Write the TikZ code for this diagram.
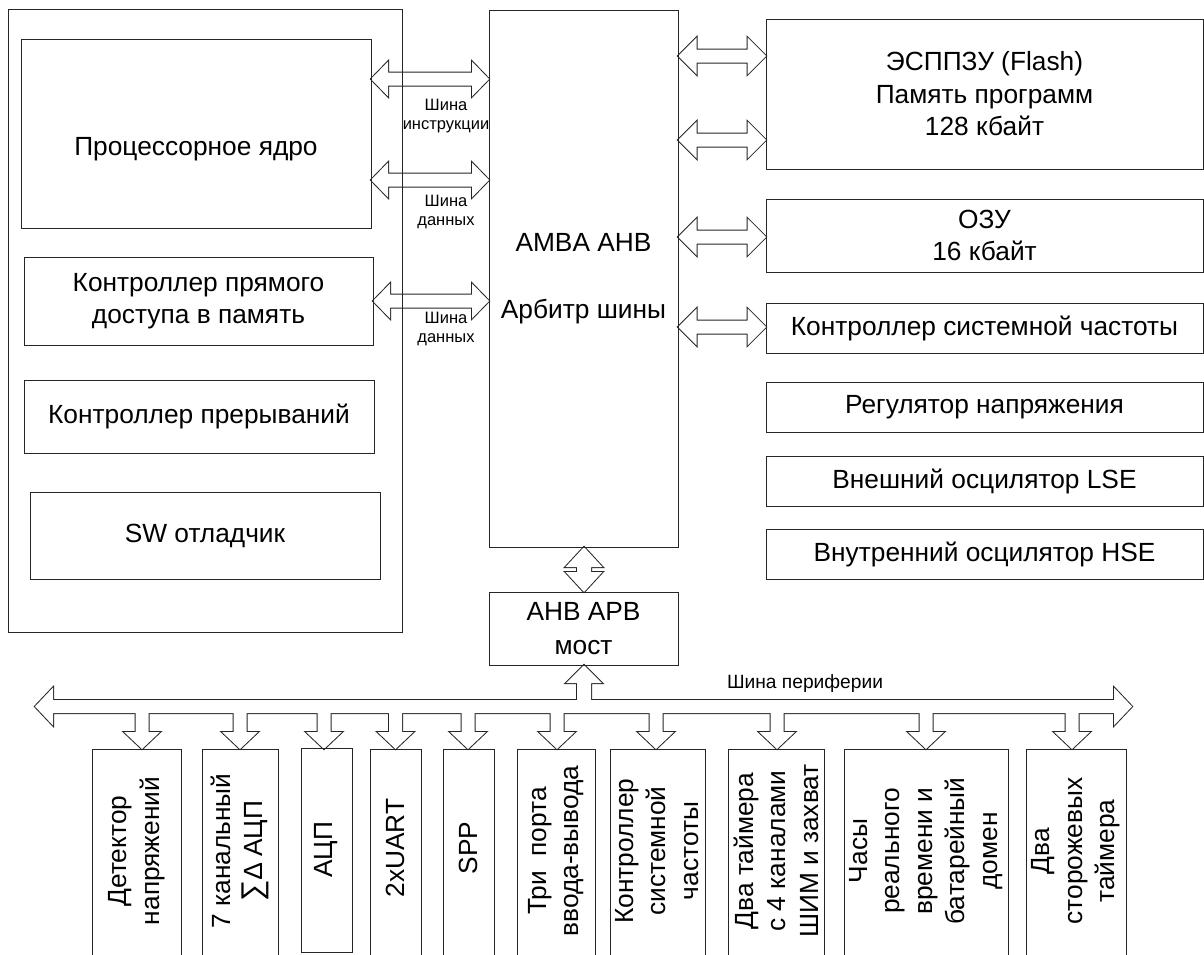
\documentclass[tikz,border=0pt]{standalone}
\usepackage{fontspec}
\setmainfont{Liberation Sans}
\newcommand\mainfs{\fontsize{26.3}{32.5}\selectfont}
\newcommand\smallfs{\fontsize{16.5}{19}\selectfont}
\newcommand\busfs{\fontsize{19.2}{22}\selectfont}
% box from (x1,y1) to (x2,y2)
\newcommand\blk[6]{\node[box, minimum width={(#4-#2)*1pt}, minimum height={(#5-#3)*1pt}] (#1) at ({(#2+#4)/2},{(#3+#5)/2}) {#6};}
% horizontal double fat arrow: y, x1, x2, head length, head half, shaft half, style
\newcommand\dblH[7]{\path[#7] ({#2},{#1}) -- ({#2+#4},{#1-#5}) -- ({#2+#4},{#1-#6}) -- ({#3-#4},{#1-#6}) -- ({#3-#4},{#1-#5}) -- ({#3},{#1}) -- ({#3-#4},{#1+#5}) -- ({#3-#4},{#1+#6}) -- ({#2+#4},{#1+#6}) -- ({#2+#4},{#1+#5}) -- cycle;}
% drop arrow from bus to box at x
\newcommand\drop[2]{\path[#2] ({#1-6.5},706) -- ({#1-6.5},732) -- ({#1-18},732) -- ({#1},749) -- ({#1+18},732) -- ({#1+6.5},732) -- ({#1+6.5},706) -- cycle;}
\newcommand\arrowset[1]{%
  \dblH{79}{371}{489}{17}{17.5}{6.5}{#1}
  \dblH{180}{371}{489}{17}{17.5}{6.5}{#1}
  \dblH{301}{373}{489}{17}{17.5}{6.5}{#1}
  \dblH{56}{678}{766}{18.5}{18.5}{6.5}{#1}
  \dblH{140}{678}{766}{18.5}{18.5}{6.5}{#1}
  \dblH{237}{678}{766}{18.5}{18.5}{6.5}{#1}
  \dblH{327}{678}{766}{18.5}{18.5}{6.5}{#1}
  % vertical double arrow AMBA - bridge
  \path[#1] (584,547) -- (602.5,567) -- (591,567) -- (591,572) -- (602.5,572) -- (584,592) -- (565.5,572) -- (577,572) -- (577,567) -- (565.5,567) -- cycle;
  % up arrow from bus to bridge
  \path[#1] (577,706) -- (577,683) -- (566,683) -- (584,665) -- (602,683) -- (591,683) -- (591,706) -- cycle;
  % peripheral bus
  \dblH{706.5}{35}{1132}{18}{19}{6.5}{#1}
  \drop{142}{#1}\drop{240}{#1}\drop{324}{#1}\drop{395.5}{#1}\drop{468}{#1}
  \drop{557}{#1}\drop{656}{#1}\drop{777}{#1}\drop{926}{#1}\drop{1072}{#1}
}
\tikzset{
  box/.style={draw=black!85, line width=1pt, inner sep=0pt, outer sep=0pt, align=center, font=\mainfs},
  txt/.style={inner sep=0pt, align=center, font=\mainfs},
  rot/.style={inner sep=0pt, align=center, font=\mainfs, rotate=90},
  lbl/.style={inner sep=0pt, align=center, font=\smallfs},
}
\begin{document}
\begin{tikzpicture}[x=1pt,y=-1pt]
\useasboundingbox (0,0) rectangle (1204,954);
% fat arrows: outline then fill, to merge junctions
\arrowset{draw=black!85, line width=2pt, line join=miter}
\arrowset{fill=white}
% left group
\node[draw=black!85, line width=1pt, inner sep=0pt, minimum width=394pt, minimum height=623pt] (cpu) at (205,320.5) {};
\blk{core}{21}{39}{371}{228}{}
\node[txt] (coretxt) at (196,149) {Процессорное ядро};
\blk{dma}{24}{257}{373}{345}{Контроллер прямого\\доступа в память}
\blk{irq}{24}{380}{374}{453}{Контроллер прерываний}
\blk{swd}{30}{492}{380}{579}{SW отладчик}
% centre
\blk{amba}{489}{10.5}{678}{547}{AMBA AHB\\[34pt]Арбитр шины}
\blk{bridge}{489}{592}{678}{665}{AHB APB\\[1pt]мост}
% right column
\blk{flash}{766}{19}{1203}{169}{ЭСППЗУ (Flash)\\Память программ\\128 кбайт}
\blk{ram}{766}{199}{1203}{272}{ОЗУ\\16 кбайт}
\blk{rcc}{766}{303}{1203}{353}{Контроллер системной частоты}
\blk{vreg}{766}{382}{1203}{432}{Регулятор напряжения}
\blk{lse}{766}{456}{1203}{506}{Внешний осцилятор LSE}
\blk{hse}{766}{529}{1203}{579}{Внутренний осцилятор HSE}
% bus labels
\node[lbl] (l1) at (446,116) {Шина\\инструкции};
\node[lbl] (l2) at (446,212) {Шина\\данных};
\node[lbl] (l3) at (446,329) {Шина\\данных};
\node[inner sep=0pt, font=\busfs] (l4) at (805,684) {Шина периферии};
% bottom peripheral boxes
\blk{p1}{92}{749}{181}{957}{}
\blk{p2}{202}{749}{278}{957}{}
\blk{p3}{301}{748}{352}{952}{}
\blk{p4}{370}{749}{421}{957}{}
\blk{p5}{443}{749}{494}{957}{}
\blk{p6}{517}{749}{595}{957}{}
\blk{p7}{610}{749}{705}{957}{}
\blk{p8}{728}{749}{824}{957}{}
\blk{p9}{844}{749}{1008}{957}{}
\blk{p10}{1026}{749}{1126}{957}{}
\node[rot] (t1) at (136.5,851) {Детектор\\напряжений};
\node[rot] (t2) at (240,851) {7 канальный\\{\fontsize{30}{32.5}\selectfont ∑}∆ АЦП};
\node[rot] (t3) at (326.5,850) {АЦП};
\node[rot] (t4) at (395.5,848) {2xUART};
\node[rot] (t5) at (468.5,848) {SPP};
\node[rot] (t6) at (556,851) {Три\ \ порта\\ввода-вывода};
\node[rot] (t7) at (657,851) {Контроллер\\системной\\частоты};
\node[rot] (t8) at (776,851) {Два таймера\\с 4 каналами\\ШИМ и захват};
\node[rot] (t9) at (926,851) {Часы\\реального\\времени и\\батарейный\\домен};
\node[rot] (t10) at (1076,851) {Два\\сторожевых\\таймера};
\end{tikzpicture}
\end{document}
